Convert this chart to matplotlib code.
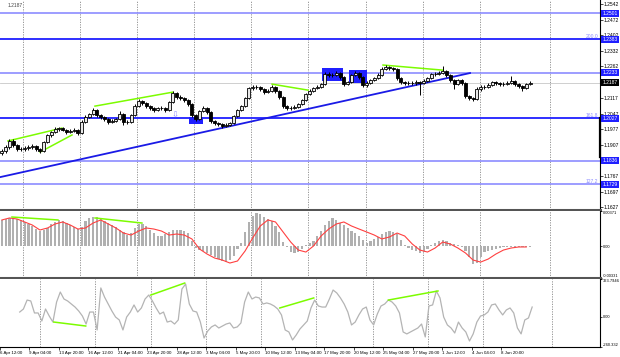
import matplotlib.pyplot as plt
from matplotlib.patches import Rectangle
import numpy as np

# EURUSD H4 chart, every candle here stands for two H4 bars
closes = [1.1879, 1.1897, 1.1925, 1.1907, 1.1888, 1.1888, 1.1893, 1.1897, 1.1902, 1.1888,
          1.1879, 1.1920, 1.1952, 1.1965, 1.1979, 1.1983, 1.1974, 1.1965, 1.1970, 1.1974,
          1.1961, 1.2010, 1.2033, 1.2046, 1.2064, 1.2042, 1.2033, 1.2024, 1.2010, 1.2015,
          1.2024, 1.2046, 1.2010, 1.2010, 1.2042, 1.2082, 1.2105, 1.2096, 1.2082, 1.2073,
          1.2064, 1.2073, 1.2073, 1.2064, 1.2100, 1.2141, 1.2123, 1.2118, 1.2109, 1.2091,
          1.2042, 1.2024, 1.2060, 1.2073, 1.2055, 1.2015, 1.2006, 1.2001, 1.1992, 1.1997,
          1.2006, 1.2037, 1.2064, 1.2082, 1.2118, 1.2163, 1.2168, 1.2168, 1.2159, 1.2145,
          1.2150, 1.2168, 1.2150, 1.2123, 1.2082, 1.2073, 1.2073, 1.2078, 1.2091, 1.2109,
          1.2136, 1.2150, 1.2163, 1.2168, 1.2181, 1.2226, 1.2222, 1.2222, 1.2231, 1.2213,
          1.2181, 1.2190, 1.2222, 1.2231, 1.2213, 1.2177, 1.2186, 1.2199, 1.2208, 1.2222,
          1.2249, 1.2258, 1.2254, 1.2249, 1.2208, 1.2190, 1.2186, 1.2186, 1.2186, 1.2190,
          1.2186, 1.2195, 1.2208, 1.2226, 1.2226, 1.2231, 1.2240, 1.2222, 1.2199, 1.2181,
          1.2199, 1.2186, 1.2127, 1.2118, 1.2114, 1.2159, 1.2168, 1.2168, 1.2177, 1.2190,
          1.2186, 1.2181, 1.2181, 1.2186, 1.2195, 1.2181, 1.2172, 1.2163, 1.2181, 1.2187]
highs = [1.1888, 1.1905, 1.1934, 1.1932, 1.1913, 1.1897, 1.1902, 1.1906, 1.1912, 1.1908,
         1.1893, 1.1927, 1.1958, 1.1972, 1.1986, 1.1990, 1.1988, 1.1979, 1.1977, 1.1982,
         1.1978, 1.2018, 1.2040, 1.2053, 1.2072, 1.2068, 1.2047, 1.2038, 1.2029, 1.2022,
         1.2030, 1.2060, 1.2050, 1.2020, 1.2048, 1.2090, 1.2113, 1.2110, 1.2100, 1.2087,
         1.2078, 1.2080, 1.2081, 1.2078, 1.2107, 1.2149, 1.2146, 1.2130, 1.2124, 1.2114,
         1.2096, 1.2048, 1.2066, 1.2082, 1.2078, 1.2060, 1.2020, 1.2012, 1.2006, 1.2004,
         1.2012, 1.2043, 1.2070, 1.2089, 1.2125, 1.2170, 1.2177, 1.2176, 1.2173, 1.2164,
         1.2157, 1.2175, 1.2172, 1.2155, 1.2128, 1.2088, 1.2081, 1.2085, 1.2097, 1.2115,
         1.2142, 1.2157, 1.2170, 1.2176, 1.2188, 1.2235, 1.2236, 1.2232, 1.2240, 1.2237,
         1.2218, 1.2197, 1.2228, 1.2242, 1.2237, 1.2218, 1.2193, 1.2205, 1.2215, 1.2229,
         1.2256, 1.2266, 1.2264, 1.2260, 1.2254, 1.2214, 1.2197, 1.2195, 1.2194, 1.2198,
         1.2196, 1.2202, 1.2215, 1.2233, 1.2235, 1.2240, 1.2262, 1.2245, 1.2227, 1.2204,
         1.2205, 1.2204, 1.2190, 1.2132, 1.2124, 1.2166, 1.2176, 1.2175, 1.2184, 1.2197,
         1.2196, 1.2191, 1.2189, 1.2193, 1.2218, 1.2200, 1.2186, 1.2178, 1.2188, 1.2193]
lows = [1.1862, 1.1872, 1.1890, 1.1900, 1.1880, 1.1879, 1.1882, 1.1886, 1.1890, 1.1880,
        1.1872, 1.1875, 1.1914, 1.1945, 1.1960, 1.1972, 1.1968, 1.1958, 1.1959, 1.1964,
        1.1950, 1.1955, 1.2004, 1.2028, 1.2040, 1.2035, 1.2026, 1.2017, 1.2003, 1.2004,
        1.2009, 1.2018, 1.1998, 1.2001, 1.2005, 1.2036, 1.2076, 1.2088, 1.2075, 1.2066,
        1.2057, 1.2058, 1.2066, 1.2057, 1.2059, 1.2095, 1.2116, 1.2110, 1.2102, 1.2084,
        1.2035, 1.2016, 1.2019, 1.2054, 1.2048, 1.2008, 1.1999, 1.1994, 1.1985, 1.1986,
        1.1991, 1.2001, 1.2031, 1.2058, 1.2077, 1.2112, 1.2156, 1.2160, 1.2152, 1.2138,
        1.2139, 1.2144, 1.2143, 1.2116, 1.2075, 1.2066, 1.2065, 1.2067, 1.2072, 1.2086,
        1.2104, 1.2130, 1.2145, 1.2158, 1.2162, 1.2176, 1.2214, 1.2214, 1.2216, 1.2206,
        1.2172, 1.2175, 1.2185, 1.2216, 1.2206, 1.2168, 1.2170, 1.2180, 1.2193, 1.2203,
        1.2217, 1.2243, 1.2246, 1.2241, 1.2200, 1.2182, 1.2178, 1.2177, 1.2178, 1.2179,
        1.2132, 1.2180, 1.2190, 1.2202, 1.2218, 1.2220, 1.2225, 1.2214, 1.2190, 1.2160,
        1.2176, 1.2178, 1.2120, 1.2110, 1.2104, 1.2109, 1.2152, 1.2160, 1.2162, 1.2172,
        1.2179, 1.2174, 1.2174, 1.2176, 1.2180, 1.2174, 1.2165, 1.2150, 1.2158, 1.2176]
first_open = 1.1870

# MACD histogram and signal, in points (1e-5)
macd_hist = [277, 287, 298, 298, 287, 277, 256, 235, 214, 182,
             161, 172, 193, 235, 256, 277, 266, 245, 224, 203,
             182, 203, 266, 298, 308, 308, 298, 266, 245, 224,
             203, 172, 151, 119, 140, 193, 235, 235, 214, 172,
             140, 109, 109, 130, 151, 172, 172, 172, 161, 140,
             57, -17, -38, -48, -69, -90, -111, -132, -153, -164,
             -143, -101, -27, 36, 151, 256, 319, 355, 340, 308,
             287, 266, 214, 151, 46, -6, -59, -69, -59, -27,
             15, 36, 57, 109, 161, 224, 266, 298, 277, 245,
             224, 193, 161, 140, 109, 67, 36, 57, 78, 99,
             130, 151, 161, 151, 130, 67, 15, -17, -38, -48,
             -69, -59, -27, 15, 36, 57, 67, 57, 36, 25,
             15, -6, -48, -111, -184, -174, -111, -59, -48, -38,
             -27, -17, -6, -6, -4, -3, -3, -2, -2, -1]
macd_signal = [277, 298, 287, 256, 224, 172, 193, 235, 256, 224,
               182, 193, 245, 277, 235, 193, 140, 119, 161, 193,
               182, 161, 119, 130, 119, 78, -27, -80, -122, -143,
               -174, -153, -48, 88, 214, 277, 256, 151, 46, -38,
               -59, 4, 109, 182, 235, 256, 214, 182, 151, 119,
               78, 99, 140, 109, 25, -38, -59, -17, 46, 25,
               -17, -69, -143, -164, -132, -80, -38, -17, -6, -6]

cci = [40, 66, 143, 135, 32, 32, -37, 66, 6, -46,
       126, 212, 152, 135, 109, 83, 49, 6, -63, 40,
       40, -114, 247, 169, 109, 49, -3, -28, -114, -3,
       40, 101, 40, 75, 152, 186, 135, 75, 23, 40,
       -46, -37, -63, -28, 238, 281, 109, 49, 40, -46,
       -183, -123, -88, -71, -97, -80, -63, -54, -97, -88,
       -54, 126, 212, 152, 169, 161, 109, 118, 109, 92,
       66, 15, -114, -131, -200, -157, -106, -71, -37, 75,
       143, 92, 83, 83, 152, 229, 204, 161, 109, 40,
       -71, -46, 15, 66, 83, -28, -71, 23, 92, 109,
       143, 126, 92, 32, -131, -148, -131, -114, -97, -63,
       -174, 92, 101, 221, 161, -3, -71, -97, -140, -46,
       -97, -131, -209, -148, -46, 6, 15, 40, 101, 109,
       58, 15, 58, 75, 32, -97, -148, -28, -11, 83]

price_ticks = [1.2542, 1.2472, 1.2402, 1.2332, 1.2262, 1.2117, 1.2047,
               1.1977, 1.1907, 1.1767, 1.1697, 1.1627]
levels = [1.2501, 1.2383, 1.2233, 1.2027, 1.1836, 1.1729]
strong_levels = [1.2383, 1.2027]
fibo_labels = {1.2383: "200.0", 1.2027: "161.8", 1.1729: "127.2"}
last_price = 1.2187

# trend line and divergence lines, as (bar, value) pairs
trend_line = [(0, 1.1762), (247.4, 1.2231)]
green_price = [[(4.2, 1.1925), (32.6, 1.1983)], [(21.1, 1.1875), (37.9, 1.1952)],
               [(50, 1.2082), (91, 1.2145)], [(143.2, 1.2181), (162.1, 1.2154)],
               [(201.6, 1.2267), (233.2, 1.2244)]]
green_macd = [[(6.3, 0.00308), (30.5, 0.00277)], [(50, 0.00298), (74.7, 0.00245)]]
green_cci = [[(19.5, -46), (36.8, -80)], [(72.1, 186), (90.5, 289)],
             [(142.1, 75), (160.5, 161)], [(201, 143), (227.9, 221)]]
blue_boxes = [(169.5, 180.5, 1.2195, 1.2254), (183.7, 193.2, 1.2186, 1.2245),
              (99.5, 106.8, 1.2001, 1.2033)]

time_labels = ["6 Apr 12:00", "9 Apr 04:00", "13 Apr 20:00", "16 Apr 12:00", "21 Apr 04:00",
               "23 Apr 20:00", "28 Apr 12:00", "3 May 04:00", "5 May 20:00", "10 May 12:00",
               "13 May 04:00", "17 May 20:00", "20 May 12:00", "25 May 04:00", "27 May 20:00",
               "1 Jun 12:00", "4 Jun 04:00", "8 Jun 20:00"]
grid_bars = [12, 42, 72, 102, 132, 162, 192.5, 222.5, 252.5, 289.5]

plt.rcParams['font.family'] = ['Liberation Sans', 'DejaVu Sans']
FS = 3.6      # price scale
FS_IND = 2.9  # indicator scales
FS_TIME = 3.2
BLUE = '#1f1fff'
LIGHT = '#8c8cff'
GREEN = '#7cfc00'

fig = plt.figure(figsize=(6.2, 3.57), dpi=100)
W = 600 / 620
ax = fig.add_axes([0, 147 / 357, W, 210 / 357])
ax_macd = fig.add_axes([0, 79 / 357, W, 67 / 357])
ax_cci = fig.add_axes([0, 10 / 357, W, 68 / 357])
xmax = 315.8

for a in (ax, ax_macd, ax_cci):
    a.set_xlim(0, xmax)
    for g in grid_bars:
        a.axvline(g, color='#888888', lw=0.6, ls=(0, (1.5, 1.5)), zorder=0)
    a.spines['left'].set_visible(False)
    a.spines['top'].set_visible(False)
    a.spines['right'].set_color('black')
    a.spines['right'].set_linewidth(0.8)
    a.spines['bottom'].set_color('#555555')
    a.spines['bottom'].set_linewidth(2.2)
    a.yaxis.tick_right()
    a.tick_params(axis='y', labelsize=FS_IND, length=1.5, width=0.5, pad=0.5)
    a.tick_params(axis='x', length=0, labelbottom=False)
ax.tick_params(axis='y', labelsize=FS, length=2, pad=0.6)
ax_cci.spines['bottom'].set_linewidth(0.8)
ax_cci.spines['bottom'].set_color('black')

# ---- price panel
ax.set_ylim(1.1614, 1.2560)
ax.set_yticks(price_ticks)
ax.set_yticklabels([f"{p:.4f}" for p in price_ticks])

for lv in levels:
    strong = lv in strong_levels
    ax.axhline(lv, color=BLUE if strong else LIGHT, lw=1.3 if strong else 1.2, zorder=1)
    ax.text(1.004, lv, f"{lv:.4f}", transform=ax.get_yaxis_transform(), fontsize=FS,
            color='white', va='center', ha='left', clip_on=False, zorder=5,
            bbox=dict(boxstyle='square,pad=0.2', fc=BLUE, ec='none'))
    if lv in fibo_labels:
        ax.text(0.997, lv, fibo_labels[lv], transform=ax.get_yaxis_transform(), fontsize=FS,
                color=LIGHT, va='bottom', ha='right')
ax.axhline(last_price, color='#c8c8c8', lw=0.6, zorder=1)
ax.text(1.004, last_price, f"{last_price:.4f}", transform=ax.get_yaxis_transform(),
        fontsize=FS, color='white', va='center', ha='left', clip_on=False, zorder=5,
        bbox=dict(boxstyle='square,pad=0.2', fc='black', ec='none'))
ax.plot([xmax, xmax], [1.2028, 1.1852], color='black', lw=1.6, clip_on=False, zorder=4)
ax.text(0.012, 0.985, "1.2187", transform=ax.transAxes, fontsize=FS, color='#444444',
        va='top', ha='left')

for x0, x1, y0, y1 in blue_boxes:
    ax.add_patch(Rectangle((x0, y0), x1 - x0, y1 - y0, fc=BLUE, ec='none', zorder=1.5))
ax.text(92, 1.2037, "\u21e9", fontsize=6, color=LIGHT, ha='center', va='center')

(tx0, ty0), (tx1, ty1) = trend_line
ax.plot([tx0, tx1], [ty0, ty1], color='#1a1ae6', lw=1.3, zorder=2)
for seg in green_price:
    ax.plot([seg[0][0], seg[1][0]], [seg[0][1], seg[1][1]], color=GREEN, lw=1.1, zorder=3)

closes = np.array(closes)
opens = np.concatenate([[first_open], closes[:-1]])
bars = 1 + 2 * np.arange(len(closes))
ax.vlines(bars, lows, highs, color='black', lw=0.7, zorder=3)
up = closes >= opens
body_lo = np.minimum(opens, closes)
body_h = np.maximum(np.abs(closes - opens), 0.00012)
ax.bar(bars[up], body_h[up], bottom=body_lo[up], width=1.5, color='#e8e8e8',
       edgecolor='black', linewidth=0.6, zorder=3.5)
ax.bar(bars[~up], body_h[~up], bottom=body_lo[~up], width=1.5, color='black',
       edgecolor='black', linewidth=0.6, zorder=3.5)

# ---- MACD panel
hist = np.array(macd_hist) * 1e-5
sig = np.array(macd_signal) * 1e-5
ax_macd.set_ylim(-0.00331, 0.00371)
ax_macd.bar(bars, hist, width=1.1, color='#b0b0b0', zorder=2)
ax_macd.plot(1 + 4 * np.arange(len(sig)), sig, color='#ff4040', lw=0.8, zorder=3)
for seg in green_macd:
    ax_macd.plot([seg[0][0], seg[1][0]], [seg[0][1], seg[1][1]], color=GREEN, lw=1.1, zorder=4)
ax_macd.set_yticks([-0.00331, 0, 0.00371])
ax_macd.set_yticklabels(["-0.00331", "0.00", "0.00371"])
mt = ax_macd.get_yticklabels()
mt[0].set_va('bottom')
mt[2].set_va('top')

# ---- CCI panel
ax_cci.set_ylim(-260.332, 323.7946)
ax_cci.plot(bars, cci, color='#b4b4b4', lw=0.9, zorder=2)
for seg in green_cci:
    ax_cci.plot([seg[0][0], seg[1][0]], [seg[0][1], seg[1][1]], color=GREEN, lw=1.1, zorder=3)
ax_cci.set_yticks([-260.332, 0, 323.7946])
ax_cci.set_yticklabels(["-260.332", "0.00", "323.7946"])
ct = ax_cci.get_yticklabels()
ct[0].set_va('bottom')
ct[2].set_va('top')

tick_pos = [6.3 + 16 * (i - 1) for i in range(len(time_labels))]
ax_cci.set_xticks(tick_pos)
ax_cci.set_xticklabels(time_labels, fontsize=FS_TIME, ha='left')
ax_cci.tick_params(axis='x', length=2, width=0.5, pad=1, labelbottom=True)

fig.savefig("out.png", dpi=100)
